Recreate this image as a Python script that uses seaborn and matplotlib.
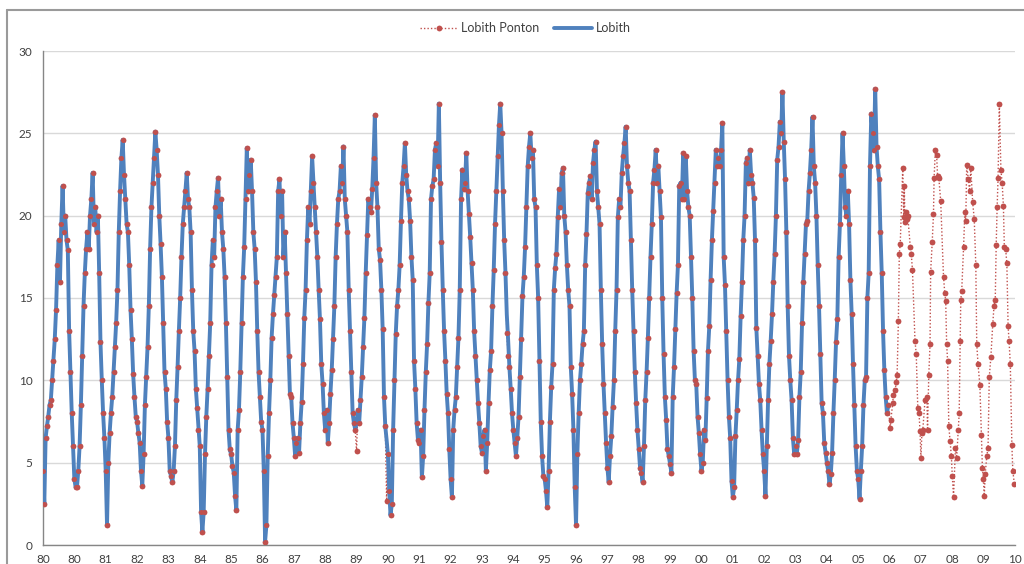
import numpy as np
import pandas as pd
import matplotlib
matplotlib.use("Agg")
import matplotlib.pyplot as plt
from matplotlib.lines import Line2D
import seaborn as sns

# ------------------------------------------------------------
# Lobith water temperature (degC), read twice a month (1st / 16th)
# ------------------------------------------------------------
lobith_1980 = [4.5, 2.5, 6.5, 7.2, 7.8, 8.5, 8.8, 10.0, 11.2, 12.5, 14.3, 17.0, 18.5, 16.0, 19.5, 21.8, 19.0, 20.0, 18.5, 17.9, 13.0, 10.5, 8.0, 6.0]
lobith_1981 = [4.0, 3.5, 3.5, 4.5, 6.0, 8.5, 11.5, 14.5, 16.5, 18.0, 19.0, 18.0, 20.0, 21.0, 22.6, 19.5, 20.5, 19.0, 20.0, 16.5, 12.3, 10.0, 8.0, 6.5]
lobith_1982 = [4.5, 1.2, 5.0, 6.8, 8.0, 9.0, 10.5, 12.0, 13.5, 15.5, 19.0, 21.5, 23.5, 24.6, 22.5, 21.0, 19.5, 19.0, 17.0, 14.3, 12.5, 10.4, 9.0, 7.8]
lobith_1983 = [7.5, 6.8, 6.2, 4.5, 3.6, 5.5, 8.5, 10.2, 12.0, 14.5, 18.0, 20.5, 22.0, 23.5, 25.1, 24.0, 22.5, 20.0, 18.3, 16.3, 13.5, 10.5, 9.5, 7.5]
lobith_1984 = [6.5, 4.5, 4.2, 3.8, 4.5, 6.0, 8.8, 10.8, 13.0, 15.0, 17.5, 19.5, 20.5, 21.5, 22.6, 21.0, 20.5, 19.0, 15.5, 13.0, 11.8, 9.5, 8.3, 7.0]
lobith_1985 = [6.0, 2.0, 0.8, 2.0, 5.5, 7.8, 9.5, 11.5, 13.5, 17.0, 18.5, 17.5, 20.5, 21.5, 22.3, 20.0, 21.0, 19.0, 18.0, 16.3, 13.5, 10.2, 7.0, 5.8]
lobith_1986 = [5.5, 4.8, 4.4, 3.0, 2.1, 7.0, 8.2, 10.5, 13.5, 16.3, 18.1, 21.0, 24.1, 21.5, 22.5, 23.4, 21.5, 19.0, 18.0, 16.0, 13.0, 10.5, 9.0, 7.5]
lobith_1987 = [7.0, 4.5, 0.2, 1.2, 5.4, 8.0, 10.0, 12.6, 14.0, 15.2, 16.3, 17.5, 21.5, 22.2, 20.0, 21.5, 17.5, 19.0, 16.5, 14.0, 11.5, 9.2, 9.0, 7.4]
lobith_1988 = [6.5, 5.4, 6.2, 6.5, 5.6, 7.4, 8.7, 11.0, 13.8, 15.5, 18.5, 20.5, 19.5, 21.5, 23.6, 22.0, 20.5, 19.0, 17.5, 15.5, 13.7, 11.0, 9.8, 8.0]
lobith_1989 = [7.0, 8.2, 6.2, 7.4, 9.2, 10.6, 12.5, 14.5, 17.5, 19.5, 21.0, 21.5, 23.0, 22.0, 24.2, 21.0, 20.0, 19.0, 15.5, 13.0, 10.5, 8.0, 7.4, 7.0]
lobith_1990 = [7.4, 8.2, 7.4, 8.8, 10.2, 12.0, 13.8, 16.5, 18.8, 21.0, 20.5, 20.2, 21.6, 23.5, 26.1, 22.0, 20.5, 18.0, 17.3, 15.5, 13.1, 9.0, 7.2, 6.4]
lobith_1991 = [5.5, 3.3, 1.8, 2.5, 7.0, 10.0, 12.8, 14.5, 15.5, 17.0, 19.7, 22.0, 23.0, 24.4, 22.5, 21.5, 21.0, 19.7, 17.5, 16.1, 11.2, 9.5, 7.4, 6.4]
lobith_1992 = [6.2, 7.0, 4.1, 5.4, 8.2, 10.5, 12.2, 14.7, 16.5, 21.0, 21.8, 22.2, 24.0, 24.4, 23.0, 26.8, 22.0, 18.4, 15.5, 13.0, 11.2, 9.2, 8.0, 5.8]
lobith_1993 = [4.0, 2.9, 7.0, 8.2, 9.0, 10.8, 12.6, 15.5, 21.0, 22.8, 21.6, 22.0, 23.8, 21.5, 20.1, 18.7, 17.1, 15.5, 13.0, 11.5, 10.0, 8.6, 7.4, 6.0]
lobith_1994 = [5.6, 6.6, 7.0, 4.5, 6.2, 8.6, 10.6, 11.8, 14.5, 16.7, 19.5, 21.5, 23.6, 25.5, 26.8, 25.0, 21.5, 18.5, 16.5, 14.0, 12.5, 10.8, 9.5, 8.0]
lobith_1995 = [7.0, 6.2, 5.4, 6.5, 7.8, 10.2, 12.5, 15.1, 16.3, 18.1, 20.5, 23.0, 24.2, 25.0, 23.5, 24.0, 21.0, 20.5, 17.0, 15.0, 11.2, 7.5, 5.4, 4.2]
lobith_1996 = [4.0, 3.3, 2.3, 4.5, 7.5, 9.6, 11.0, 15.5, 16.8, 17.7, 19.9, 21.6, 20.5, 22.6, 22.9, 20.0, 19.0, 17.0, 15.5, 14.5, 10.8, 9.2, 7.0, 3.5]
lobith_1997 = [1.2, 5.5, 8.0, 10.0, 11.0, 12.2, 13.0, 17.0, 18.9, 21.4, 22.0, 22.4, 21.0, 23.2, 24.0, 24.5, 21.5, 20.5, 19.5, 15.5, 12.2, 9.8, 8.0, 6.2]
lobith_1998 = [4.7, 3.8, 5.4, 6.6, 8.4, 10.0, 13.0, 15.5, 19.9, 21.0, 20.5, 22.6, 23.6, 24.4, 25.4, 23.0, 22.0, 21.5, 18.5, 15.5, 13.0, 10.5, 8.6, 7.0]
lobith_1999 = [5.8, 4.7, 4.4, 3.8, 6.0, 8.8, 10.5, 12.6, 15.0, 17.5, 19.5, 22.0, 22.8, 24.0, 22.0, 23.0, 21.5, 19.9, 15.0, 11.6, 9.0, 7.6, 5.8, 5.4]
lobith_2000 = [4.9, 4.4, 9.0, 10.8, 13.1, 15.3, 17.0, 21.8, 22.0, 21.0, 23.8, 21.0, 23.6, 21.5, 20.5, 20.0, 17.5, 15.0, 11.8, 10.0, 9.8, 7.8, 6.8, 5.5]
lobith_2001 = [4.5, 5.0, 7.0, 6.4, 8.9, 11.8, 13.3, 16.1, 18.5, 20.3, 22.0, 24.0, 23.0, 23.5, 23.0, 24.0, 25.6, 17.5, 15.8, 13.0, 10.0, 7.8, 6.5, 3.9]
lobith_2002 = [2.9, 3.5, 6.6, 8.2, 10.0, 11.3, 13.9, 16.0, 18.5, 20.0, 23.2, 23.5, 22.0, 24.0, 22.5, 22.0, 21.1, 18.5, 13.2, 11.5, 9.8, 8.8, 7.0, 5.5]
lobith_2003 = [4.5, 3.0, 6.0, 8.8, 11.0, 12.4, 14.0, 16.0, 17.7, 20.0, 23.4, 24.2, 25.7, 25.0, 27.5, 24.5, 22.2, 19.0, 14.5, 11.5, 10.0, 8.8, 6.5, 5.5]
lobith_2004 = [6.0, 5.5, 6.4, 9.0, 10.5, 13.5, 16.0, 17.7, 19.5, 19.7, 21.5, 22.6, 24.0, 26.0, 23.0, 22.0, 20.0, 17.0, 14.5, 11.6, 8.6, 8.0, 6.2, 5.6]
lobith_2005 = [5.0, 4.5, 3.7, 4.3, 5.6, 8.0, 10.0, 12.3, 13.7, 17.5, 19.5, 22.5, 25.0, 23.0, 20.5, 20.0, 21.5, 19.5, 16.1, 14.0, 11.0, 8.5, 6.0, 4.5]
lobith_2006 = [4.0, 2.8, 4.5, 6.0, 8.5, 10.0, 10.2, 15.0, 16.5, 23.0, 26.2, 25.0, 24.0, 27.7, 24.2, 23.0, 22.2, 19.0, 16.5, 13.0, 10.6, 9.0, 8.0, 8.5]

lobith_years = list(range(1980, 2007))
lobith_series = [
    lobith_1980, lobith_1981, lobith_1982, lobith_1983, lobith_1984, lobith_1985,
    lobith_1986, lobith_1987, lobith_1988, lobith_1989, lobith_1990, lobith_1991,
    lobith_1992, lobith_1993, lobith_1994, lobith_1995, lobith_1996, lobith_1997,
    lobith_1998, lobith_1999, lobith_2000, lobith_2001, lobith_2002, lobith_2003,
    lobith_2004, lobith_2005, lobith_2006,
]

# Ponton samples that sit off the Lobith line (year, half-month index, degC)
ponton_offsets = [(1990, 0, 5.7), (1990, 23, 2.7), (1994, 19, 12.9), (1994, 20, 11.5)]

# Ponton samples after the Lobith record stops (decimal year, degC)
ponton_late = [
    (2007.02, 7.1), (2007.04, 7.6), (2007.10, 8.6), (2007.12, 9.1), (2007.18, 9.4),
    (2007.21, 9.9), (2007.24, 10.3), (2007.28, 13.6), (2007.31, 17.7), (2007.34, 18.3),
    (2007.42, 22.9), (2007.45, 19.9), (2007.47, 21.8), (2007.49, 19.6), (2007.51, 19.9),
    (2007.53, 20.2), (2007.55, 19.8), (2007.58, 20.0), (2007.66, 18.1), (2007.69, 17.7),
    (2007.73, 16.7), (2007.81, 12.4), (2007.85, 11.6), (2007.90, 8.3), (2007.94, 8.0),
    (2007.97, 6.9),
    (2008.00, 5.3), (2008.03, 6.8), (2008.06, 7.0), (2008.13, 8.8), (2008.19, 9.0),
    (2008.21, 7.0), (2008.25, 10.3), (2008.29, 12.2), (2008.31, 16.6), (2008.36, 18.4),
    (2008.40, 20.1), (2008.42, 22.3), (2008.46, 24.0), (2008.50, 23.7), (2008.53, 22.4),
    (2008.57, 22.3), (2008.63, 20.9), (2008.72, 16.3), (2008.76, 15.3), (2008.79, 14.8),
    (2008.82, 12.2), (2008.85, 11.2), (2008.89, 7.2), (2008.93, 6.3), (2008.97, 5.4),
    (2009.00, 4.2), (2009.04, 2.9), (2009.10, 5.9), (2009.14, 5.3), (2009.19, 7.0),
    (2009.22, 8.0), (2009.25, 12.4), (2009.27, 14.9), (2009.30, 15.4), (2009.36, 18.1),
    (2009.40, 20.2), (2009.43, 19.7), (2009.46, 23.1), (2009.51, 22.2), (2009.55, 21.5),
    (2009.59, 22.9), (2009.65, 20.8), (2009.70, 19.8), (2009.75, 17.0), (2009.78, 12.2),
    (2009.82, 11.0), (2009.88, 9.7), (2009.93, 6.7), (2009.96, 4.7), (2009.99, 4.0),
    (2010.02, 3.0), (2010.05, 4.3), (2010.10, 5.4), (2010.14, 5.9), (2010.18, 10.2),
    (2010.23, 11.4), (2010.29, 13.4), (2010.33, 14.5), (2010.37, 14.9), (2010.40, 18.2),
    (2010.43, 20.5), (2010.46, 22.3), (2010.50, 26.8), (2010.55, 22.8), (2010.59, 22.0),
    (2010.63, 20.6), (2010.66, 18.1), (2010.70, 18.0), (2010.74, 17.1), (2010.78, 13.3),
    (2010.81, 12.4), (2010.85, 11.0), (2010.90, 6.1), (2010.93, 4.5), (2010.98, 3.7),
]

# axis ticks fall every 365 days from 1 Jan 1980, so the labels lag a year
tick_labels = ["80", "80", "81", "82", "83", "84", "85", "86", "87", "88", "89",
               "90", "91", "92", "93", "94", "95", "96", "97", "98", "99",
               "00", "01", "02", "03", "04", "05", "06", "07", "08", "09", "10"]

RED = "#C0504D"
BLUE = "#4F81BD"
TEXT = "#404040"

# ------------------------------------------------------------
# build the tables
# ------------------------------------------------------------
rows = []
for yr, vals in zip(lobith_years, lobith_series):
    for k, v in enumerate(vals):
        rows.append((yr + k / 24.0, v))
lobith = pd.DataFrame(rows, columns=["year", "temp"])

ponton_early = lobith.copy()
for yr, k, v in ponton_offsets:
    ponton_early.loc[np.isclose(ponton_early["year"], yr + k / 24.0), "temp"] = v
ponton = pd.concat([ponton_early, pd.DataFrame(ponton_late, columns=["year", "temp"])],
                   ignore_index=True)

# ------------------------------------------------------------
# plot
# ------------------------------------------------------------
sns.set_style("white")
plt.rcParams["font.family"] = ["Lato", "DejaVu Sans"]

fig = plt.figure(figsize=(10.24, 5.64), dpi=100)
ax = fig.add_axes([43 / 1024, 19 / 564, 972 / 1024, 494 / 564])

sns.lineplot(data=ponton, x="year", y="temp", ax=ax, color=RED, lw=1.0,
             linestyle=(0, (1, 1.5)), marker="o", markersize=4.2, markeredgewidth=0,
             sort=False, estimator=None, errorbar=None, label="Lobith Ponton", zorder=2)
sns.lineplot(data=lobith, x="year", y="temp", ax=ax, color=BLUE, lw=2.8,
             sort=False, estimator=None, errorbar=None, label="Lobith", zorder=3)
# Ponton dots drawn again so they show on top of the Lobith line
sns.scatterplot(data=ponton, x="year", y="temp", ax=ax, color=RED, s=13,
                linewidth=0, legend=False, zorder=4)

ax.set_xlim(1980, 2011)
ax.set_ylim(0, 30)
ax.set_xticks(range(1980, 2012))
ax.set_xticklabels(tick_labels)
ax.set_yticks(range(0, 31, 5))
ax.set_xlabel("")
ax.set_ylabel("")

ax.grid(axis="y", color="#D9D9D9", lw=1.0)
ax.grid(axis="x", visible=False)
ax.set_axisbelow(True)
for side in ["top", "right"]:
    ax.spines[side].set_visible(False)
for side in ["left", "bottom"]:
    ax.spines[side].set_color("#868686")
    ax.spines[side].set_linewidth(1.0)
ax.tick_params(axis="both", colors="#868686", labelcolor=TEXT, labelsize=8.5,
               direction="out", length=3.5, width=1.0)
ax.tick_params(axis="x", pad=3)
ax.tick_params(axis="y", pad=4)

handles, labels = ax.get_legend_handles_labels()
ax.legend(handles, labels, loc="center", bbox_to_anchor=(0.513, 0.950),
          bbox_transform=fig.transFigure, ncol=2, frameon=False, fontsize=9,
          handlelength=3.0, columnspacing=1.2, handletextpad=0.3, labelcolor=TEXT)

# chart frame (top and left edges are the only ones inside the picture)
fig.add_artist(Line2D([7 / 1024, 1.0], [1 - 10 / 564, 1 - 10 / 564],
                      transform=fig.transFigure, color="#9A9A9A", lw=1.5))
fig.add_artist(Line2D([7 / 1024, 7 / 1024], [0.0, 1 - 10 / 564],
                      transform=fig.transFigure, color="#9A9A9A", lw=1.5))

fig.savefig("out.png", dpi=100)
print("[INFO] saved out.png")
